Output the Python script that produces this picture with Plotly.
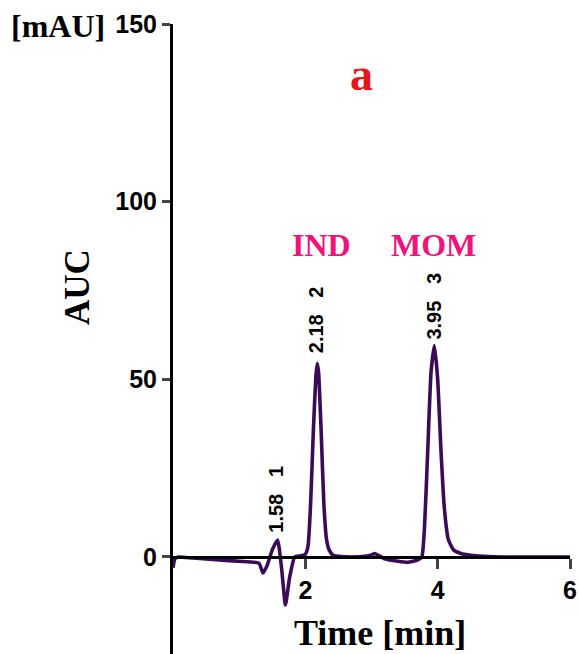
import plotly.graph_objects as go

# Chromatogram data (time in min, signal in mAU)
time = [0, 0.03, 0.08, 0.3, 0.7, 1.0, 1.3, 1.36, 1.42, 1.5, 1.58, 1.64, 1.70, 1.76,
        1.84, 1.92, 2.0, 2.04, 2.08, 2.12, 2.16, 2.18, 2.20, 2.24, 2.28, 2.32, 2.36,
        2.42, 2.5, 2.7, 2.9, 3.0, 3.05, 3.1, 3.2, 3.4, 3.55, 3.7, 3.76, 3.8, 3.85,
        3.9, 3.95, 4.0, 4.05, 4.1, 4.16, 4.24, 4.35, 4.5, 4.7, 5.0, 5.5, 6.0]
signal = [-3, -0.5, 0, -0.3, -0.8, -1.2, -1.8, -4.5, -2.5, 2, 4.8, -3, -13.5, -6,
          0, 0.3, 0.8, 3, 15, 35, 51, 54.5, 52, 35, 15, 5, 2,
          0.5, 0.2, 0, 0.2, 0.6, 1, 0.5, -0.5, -1.2, -1.5, -0.8, 0, 8, 30,
          52, 59.5, 50, 30, 14, 5, 2, 1, 0.5, 0.2, 0, 0, 0]

peak_times = [1.58, 2.18, 3.95]
peak_labels = ["1.58", "2.18", "3.95"]
peak_ids = ["1", "2", "3"]
peak_label_y = [6.2, 56.9, 60.5]

compound_names = ["IND", "MOM"]
compound_x = [2.25, 3.93]
compound_y = [87.8, 87.8]

x_ticks = [2, 4, 6]
y_ticks = [0, 50, 100, 150]
x_range = [0, 6]
y_range = [-27.3, 150]

W, H = 579, 654
L, R, T, B = 173, 9, 24, 0
plot_h = H - T - B
zero_pos = (0 - y_range[0]) / (y_range[1] - y_range[0])

fig = go.Figure()
fig.add_trace(go.Scatter(
    x=time, y=signal, mode="lines",
    line=dict(color="#3A0C58", width=3.6, shape="spline", smoothing=0.5),
    showlegend=False, hoverinfo="skip"))

ann = []
for t, lab, pid, yy in zip(peak_times, peak_labels, peak_ids, peak_label_y):
    ann.append(dict(x=t - 0.02, y=yy, xref="x", yref="y", text=f"{lab}\u00a0\u00a0\u00a0{pid}",
                    textangle=-90, showarrow=False, xanchor="center", yanchor="bottom",
                    font=dict(family="Liberation Sans", size=20, color="black", weight="bold")))
for name, cx, cy in zip(compound_names, compound_x, compound_y):
    ann.append(dict(x=cx, y=cy, xref="x", yref="y", text=name, showarrow=False,
                    font=dict(family="Liberation Serif", size=32, color="#EE1479", weight="bold")))
ann.append(dict(x=2.85, y=135.7, xref="x", yref="y", text="a", showarrow=False,
                font=dict(family="Liberation Serif", size=46, color="#E8141A", weight="bold")))
ann.append(dict(x=(58 - L) / (W - L - R), y=1 - (26 - T) / plot_h, xref="paper", yref="paper",
                text="[mAU]", showarrow=False, xanchor="center", yanchor="middle",
                font=dict(family="Liberation Serif", size=32, color="black", weight="bold")))
ann.append(dict(x=(77 - L) / (W - L - R), y=1 - (287 - T) / plot_h, xref="paper", yref="paper",
                text="AUC", showarrow=False, textangle=-90, xanchor="center", yanchor="middle",
                font=dict(family="Liberation Serif", size=35, color="black", weight="bold")))
ann.append(dict(x=(380 - L) / (W - L - R), y=1 - (633 - T) / plot_h, xref="paper", yref="paper",
                text="Time [min]", showarrow=False, xanchor="center", yanchor="middle",
                font=dict(family="Liberation Serif", size=36, color="black", weight="bold")))

fig.update_layout(
    width=W, height=H, margin=dict(l=L, r=R, t=T, b=B),
    paper_bgcolor="white", plot_bgcolor="white",
    annotations=ann,
    xaxis=dict(range=x_range, tickvals=x_ticks, ticks="outside", ticklen=10, tickwidth=3,
               showline=True, linecolor="black", linewidth=3, showgrid=False, zeroline=False,
               anchor="free", position=zero_pos,
               tickfont=dict(family="Liberation Sans", size=25, color="black", weight="bold")),
    yaxis=dict(range=y_range, tickvals=y_ticks, ticks="outside", ticklen=8, tickwidth=3,
               showline=True, linecolor="black", linewidth=3, showgrid=False, zeroline=False,
               tickfont=dict(family="Liberation Sans", size=25, color="black", weight="bold")),
)

fig.write_html("out.html")
